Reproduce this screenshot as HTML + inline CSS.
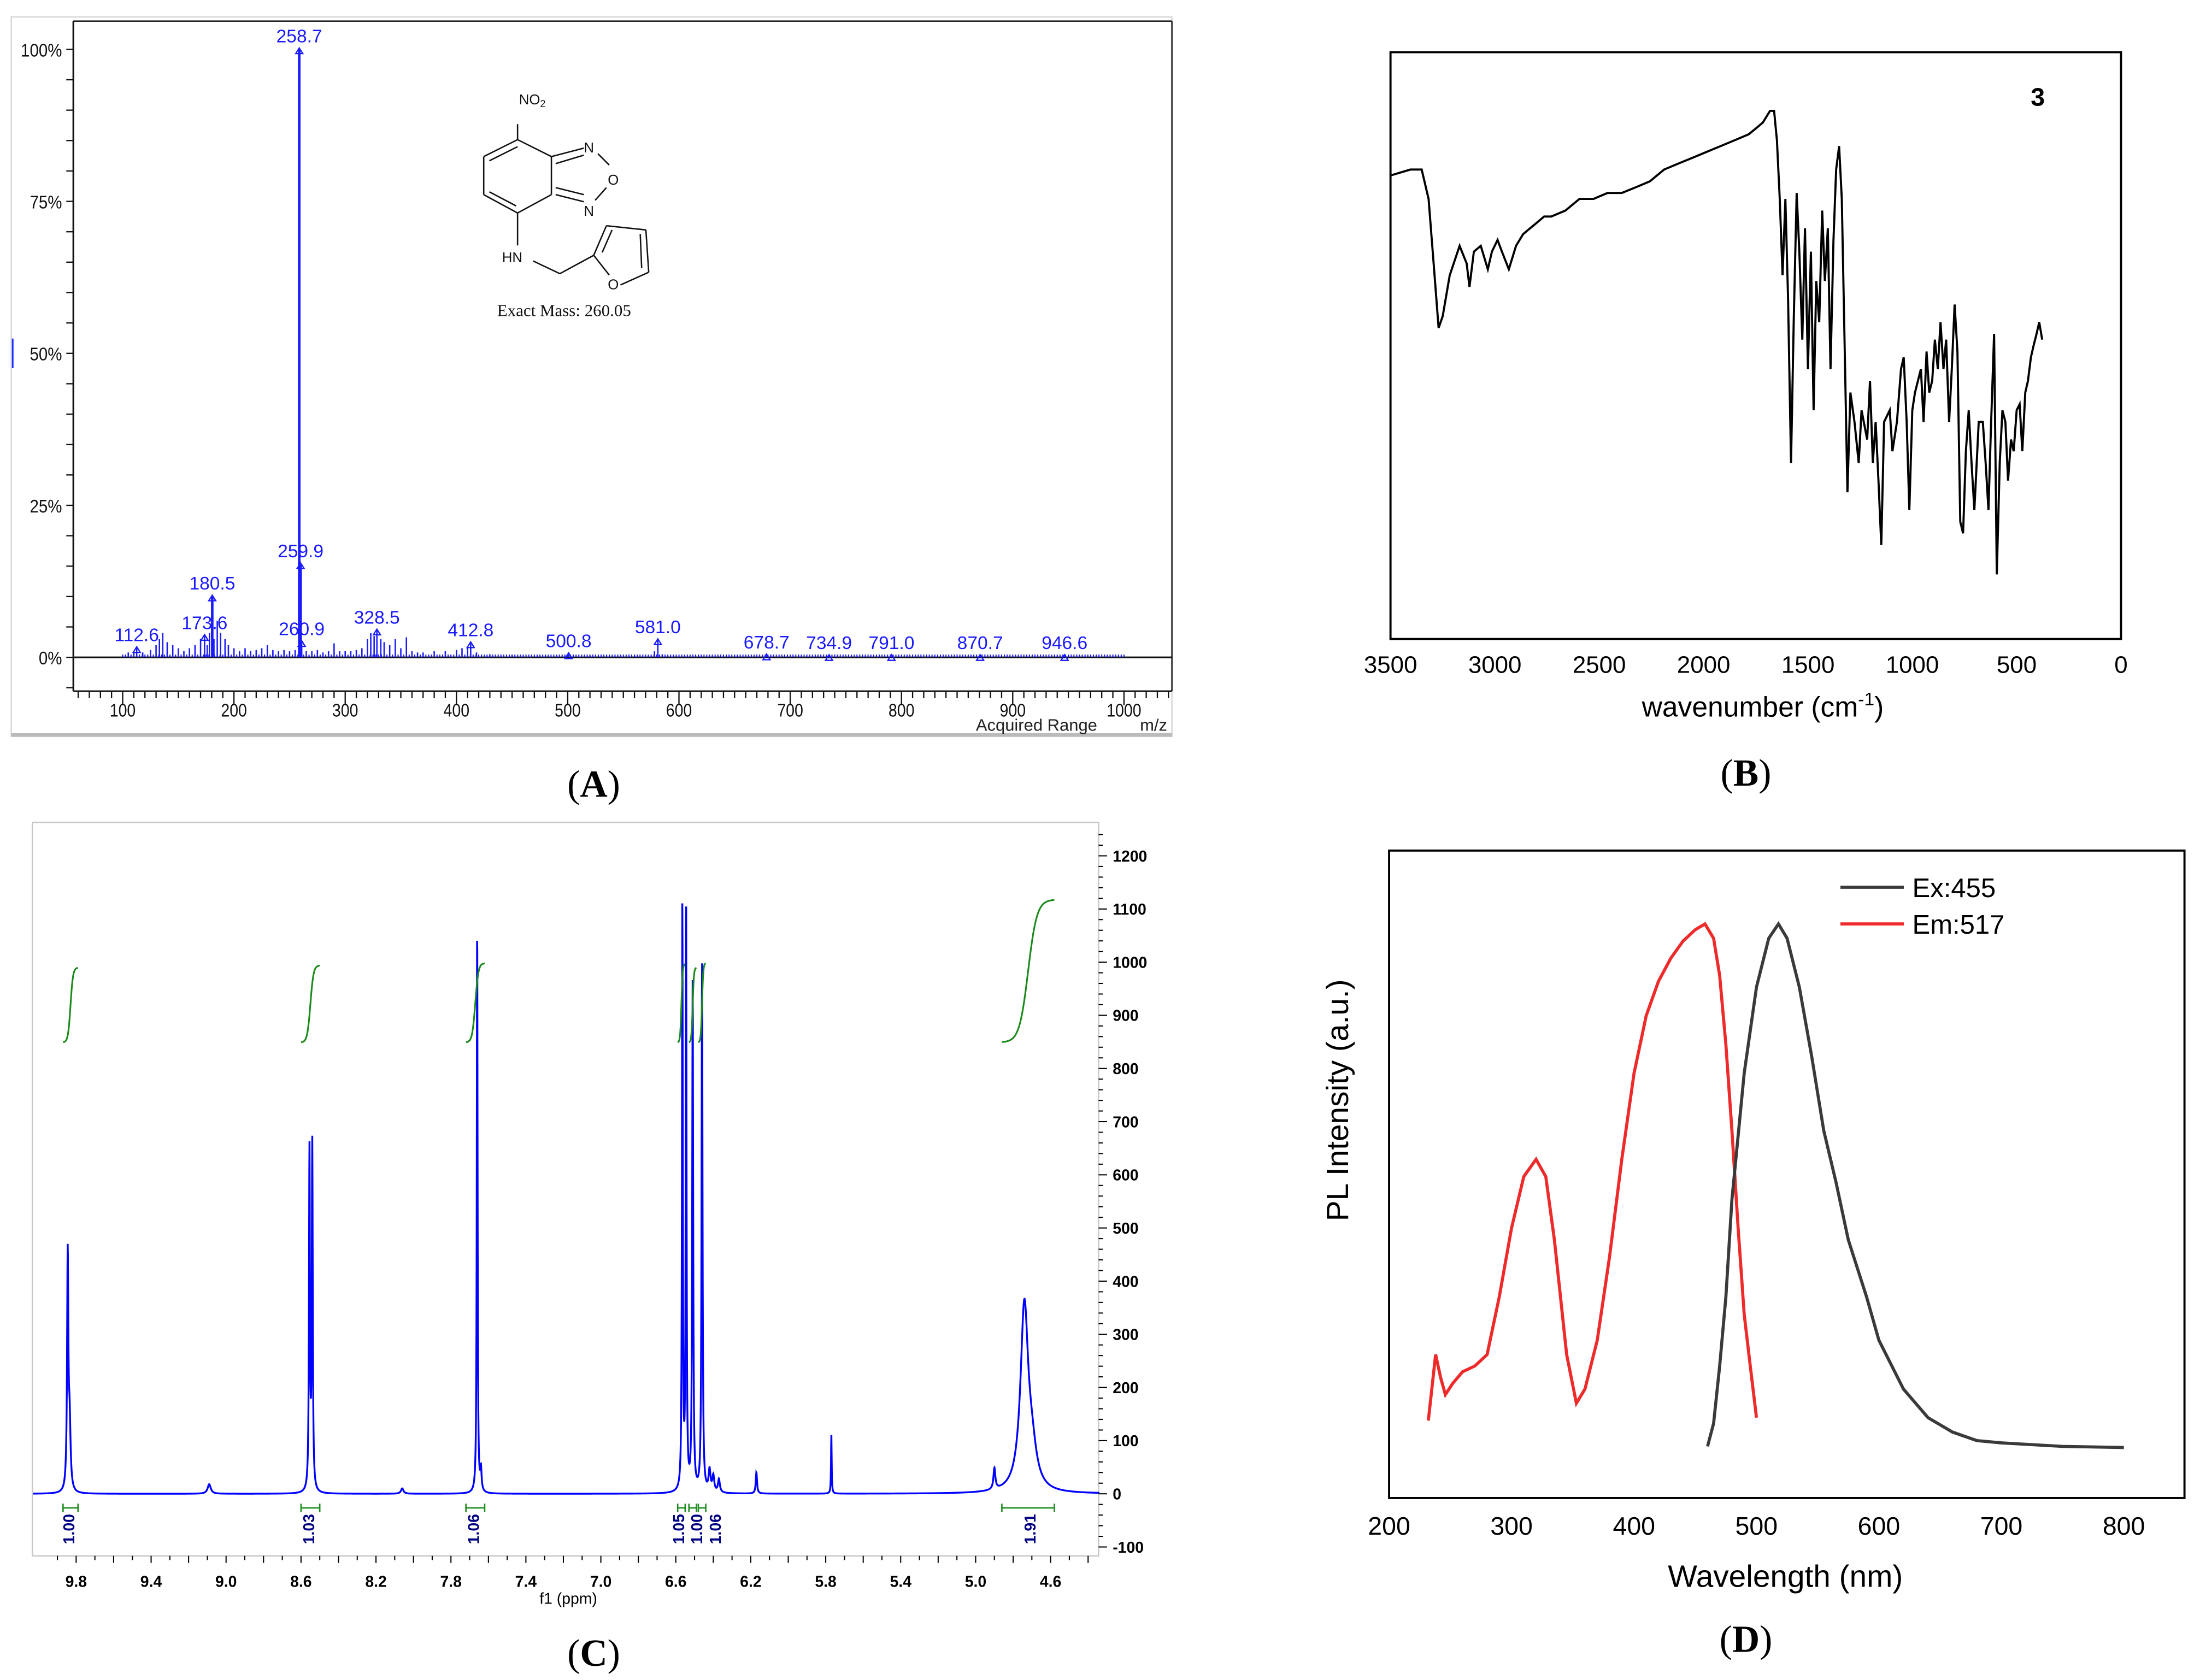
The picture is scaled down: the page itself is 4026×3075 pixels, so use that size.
<!DOCTYPE html>
<html><head><meta charset="utf-8"><style>
html,body{margin:0;padding:0;background:#fff;}
svg{display:block;}
</style></head><body>
<svg id="fig" width="4026" height="3075" viewBox="0 0 1560 1191" preserveAspectRatio="none" xmlns="http://www.w3.org/2000/svg" font-family="Liberation Sans, sans-serif">
<rect x="0" y="0" width="1560" height="1191" fill="#fff"/>
<g id="panelA">
<rect x="8" y="12" width="823" height="510" fill="none" stroke="#d8d8d8" stroke-width="1"/>
<line x1="8" y1="521" x2="831" y2="521" stroke="#bbb" stroke-width="2.5"/>
<line x1="52" y1="15" x2="831" y2="15" stroke="#222" stroke-width="1"/>
<line x1="831" y1="15" x2="831" y2="490" stroke="#222" stroke-width="1"/>
<line x1="52" y1="15" x2="52" y2="490" stroke="#111" stroke-width="1.2"/>
<line x1="52" y1="466" x2="831" y2="466" stroke="#111" stroke-width="1.2"/>
<line x1="52" y1="490" x2="831" y2="490" stroke="#111" stroke-width="1.2"/>
<line x1="9" y1="240" x2="9" y2="261" stroke="#2233ff" stroke-width="1.2"/>
<text x="735" y="518" font-size="12" text-anchor="middle" fill="#222">Acquired Range</text>
<text x="818" y="518" font-size="12" text-anchor="middle" fill="#222">m/z</text>
<g id="molecule" stroke="#111" stroke-width="1" fill="none">
<line x1="367" y1="99" x2="367" y2="88"/>
<line x1="367" y1="99" x2="343" y2="111"/><line x1="347" y1="114" x2="367" y2="104"/>
<line x1="343" y1="111" x2="343" y2="138"/>
<line x1="343" y1="138" x2="367" y2="151"/><line x1="347" y1="136" x2="366" y2="146"/>
<line x1="367" y1="151" x2="391" y2="138"/>
<line x1="391" y1="138" x2="391" y2="111"/>
<line x1="391" y1="111" x2="367" y2="99"/>
<line x1="391" y1="111" x2="414" y2="105"/><line x1="394" y1="116" x2="414" y2="110"/>
<line x1="394" y1="138" x2="414" y2="143"/><line x1="394" y1="133" x2="414" y2="138"/>
<line x1="424" y1="109" x2="432" y2="117"/><line x1="430" y1="133" x2="422" y2="142"/>
<line x1="367" y1="151" x2="367" y2="174"/>
<line x1="378" y1="185" x2="397" y2="194"/><line x1="397" y1="194" x2="421" y2="181"/>
<line x1="421" y1="181" x2="430" y2="160"/><line x1="427" y1="179" x2="434" y2="163"/>
<line x1="430" y1="160" x2="458" y2="163"/>
<line x1="458" y1="163" x2="460" y2="193"/><line x1="454" y1="166" x2="455" y2="190"/>
<line x1="460" y1="193" x2="440" y2="202"/>
<line x1="421" y1="181" x2="432" y2="195"/>
</g>
<g font-size="10" fill="#111">
<text x="368" y="74">NO<tspan font-size="7" dy="2">2</tspan></text>
<text x="414" y="108">N</text>
<text x="431" y="131">O</text>
<text x="414" y="153">N</text>
<text x="356" y="186">HN</text>
<text x="431" y="205">O</text>
</g>
<text x="400" y="224" font-size="12" font-family="Liberation Serif, serif" text-anchor="middle" fill="#111">Exact Mass: 260.05</text>
<g id="aTicks"></g>
<g id="aPeaks"></g>
</g>
<text x="421" y="565" font-size="27" font-family="Liberation Serif, serif" text-anchor="middle" fill="#000">(<tspan font-weight="bold">A</tspan>)</text>

<g id="panelB">
<rect x="986" y="37" width="518" height="416" fill="none" stroke="#000" stroke-width="1.5"/>
<text x="1445" y="75" font-size="18" font-weight="bold" text-anchor="middle" fill="#000">3</text>
<g id="bTicks"></g>
<path id="irLine" fill="none" stroke="#000" stroke-width="1.5"/>
<text x="1250" y="508" font-size="20" text-anchor="middle" fill="#000">wavenumber (cm<tspan font-size="13" dy="-8">-1</tspan><tspan dy="8">)</tspan></text>
</g>
<text x="1238" y="557" font-size="27" font-family="Liberation Serif, serif" text-anchor="middle" fill="#000">(<tspan font-weight="bold">B</tspan>)</text>

<g id="panelC">
<rect x="23" y="583" width="756" height="520" fill="none" stroke="#c8c8c8" stroke-width="1"/>
<g id="cTicks"></g>
<path id="nmrLine" fill="none" stroke="#0000ff" stroke-width="1.3"/>
<g id="cInteg"></g>
<text x="403" y="1137" font-size="11" text-anchor="middle" fill="#000">f1 (ppm)</text>
</g>
<text x="421" y="1181" font-size="27" font-family="Liberation Serif, serif" text-anchor="middle" fill="#000">(<tspan font-weight="bold">C</tspan>)</text>

<g id="panelD">
<rect x="985" y="603" width="564" height="459" fill="none" stroke="#000" stroke-width="1.5"/>
<g id="dTicks"></g>
<path id="emLine" fill="none" stroke="#ee2a2a" stroke-width="2.2"/>
<path id="exLine" fill="none" stroke="#3a3a3a" stroke-width="2.2"/>
<line x1="1305" y1="629" x2="1350" y2="629" stroke="#3a3a3a" stroke-width="2.2"/>
<text x="1356" y="636" font-size="19" fill="#000">Ex:455</text>
<line x1="1305" y1="655" x2="1350" y2="655" stroke="#ee2a2a" stroke-width="2.2"/>
<text x="1356" y="662" font-size="19" fill="#000">Em:517</text>
<text x="1266" y="1125" font-size="22" text-anchor="middle" fill="#000">Wavelength (nm)</text>
<text transform="translate(956,780) rotate(-90)" font-size="22" text-anchor="middle" fill="#000">PL Intensity (a.u.)</text>
</g>
<text x="1238" y="1171" font-size="27" font-family="Liberation Serif, serif" text-anchor="middle" fill="#000">(<tspan font-weight="bold">D</tspan>)</text>
</svg>
<script>
const msMainMz = [180.5, 258.7, 259.9];
const msMainVal = [10, 100, 15.3];
const msSmallMz = [105,110,112.6,118,125,130,133,136,140,145,150,155,160,165,170,173.6,176,178,182,185,188,192,195,200,205,210,215,220,225,230,235,240,245,250,255,260.9,265,270,275,280,285,290,295,300,305,310,315,320,323,326,328.5,332,335,340,345,350,355,360,365,370,380,390,400,405,410,412.8,418,430,450,480,500.8,520,560,578,581,585,620,678.7,734.9,791,870.7,946.6];
const msSmallVal = [0.8,1,1.5,0.8,1.2,2,3,4,2.5,2,1.5,1,1.5,2,3,3.5,2,4,3,6,4,3,2,1.5,1,1.5,1,1.2,1.5,2,1.2,1,1.2,1,1.2,2.5,1,1,1.2,0.8,1,2.3,1,1,1,1.2,1.5,3,4,3.5,4.4,3,2.5,2,3,1.5,3.3,1,0.8,0.8,1,1,1.2,1.5,1.8,2.3,0.8,0.5,0.4,0.3,0.5,0.3,0.3,1,2.8,0.5,0.3,0.3,0.2,0.2,0.2,0.2];
const msLabels = ["112.6","173.6","180.5","258.7","259.9","260.9","328.5","412.8","500.8","581.0","678.7","734.9","791.0","870.7","946.6"];
const msXTicks = [100,200,300,400,500,600,700,800,900,1000];
const msYTicks = [0,25,50,75,100];
const irWave = [3500,3405,3351,3318,3291,3270,3250,3216,3169,3135,3122,3101,3068,3034,3014,2987,2966,2933,2899,2865,2831,2797,2764,2730,2662,2595,2527,2460,2392,2324,2257,2189,2122,2054,1986,1919,1851,1784,1750,1716,1682,1662,1649,1635,1622,1608,1595,1581,1568,1554,1541,1527,1514,1500,1486,1473,1460,1446,1432,1419,1405,1392,1378,1365,1351,1338,1324,1311,1297,1277,1257,1243,1216,1203,1189,1176,1162,1149,1135,1108,1095,1074,1054,1041,1027,1014,1000,987,959,946,932,919,905,892,878,865,851,838,824,811,797,784,770,757,743,730,716,703,682,662,649,635,622,608,595,581,568,554,541,527,514,500,486,473,459,446,432,419,405,392,378];
const irTrans = [79,80,80,75,63,53,55,62,67,64,60,66,67,63,66,68,66,63,67,69,70,71,72,72,73,75,75,76,76,77,78,80,81,82,83,84,85,86,87,88,90,90,85,75,62,75,58,30,54,76,66,51,70,46,66,39,61,54,73,61,70,46,68,80,84,75,49,25,42,37,30,39,34,44,30,37,27,16,37,39,32,37,46,48,37,22,39,42,46,37,49,42,44,51,46,54,46,51,37,46,57,49,20,18,32,39,30,22,37,37,30,22,37,52,11,30,39,37,27,34,32,39,40,32,42,44,48,50,52,54,51];
const irXTicks = [3500,3000,2500,2000,1500,1000,500,0];
const nmrPpm = [9.845,9.835,9.09,8.555,8.54,8.06,7.66,7.64,6.565,6.545,6.51,6.46,6.42,6.40,6.37,6.17,5.77,4.90,4.74,4.70];
const nmrHeight = [440,120,18,640,650,10,1085,40,1110,1098,960,1000,40,30,25,40,112,40,345,60];
const nmrWidth = [0.004,0.006,0.01,0.003,0.003,0.008,0.0025,0.004,0.0025,0.0025,0.003,0.003,0.006,0.006,0.006,0.004,0.002,0.006,0.025,0.03];
const integStart = [9.87,8.60,7.72,6.59,6.53,6.48,4.86];
const integEnd = [9.79,8.50,7.62,6.55,6.49,6.44,4.58];
const integLabelPpm = [9.84,8.56,7.68,6.585,6.49,6.39,4.71];
const integVal = ["1.00","1.03","1.06","1.05","1.00","1.06","1.91"];
const integNum = [1.00,1.03,1.06,1.05,1.00,1.06,1.91];
const nmrXTicks = [9.8,9.4,9.0,8.6,8.2,7.8,7.4,7.0,6.6,6.2,5.8,5.4,5.0,4.6];
const nmrYTicks = [-100,0,100,200,300,400,500,600,700,800,900,1000,1100,1200];
const emNm = [232,238,242,246,252,260,270,280,290,300,310,320,328,335,345,353,360,370,380,390,400,410,420,430,440,450,458,465,470,475,480,485,490,495,500];
const emVal = [0.135,0.25,0.21,0.18,0.2,0.22,0.23,0.25,0.35,0.47,0.56,0.59,0.56,0.45,0.25,0.165,0.19,0.275,0.42,0.59,0.74,0.84,0.9,0.94,0.97,0.99,1.0,0.975,0.91,0.79,0.64,0.47,0.32,0.23,0.14];
const exNm = [460,465,470,475,480,490,500,510,518,525,535,545,555,565,575,590,600,620,640,660,680,700,750,800];
const exVal = [0.09,0.13,0.23,0.35,0.52,0.74,0.89,0.975,1.0,0.975,0.89,0.77,0.64,0.55,0.45,0.35,0.275,0.19,0.14,0.115,0.10,0.096,0.09,0.088];
const plXTicks = [200,300,400,500,600,700,800];

const NS = "http://www.w3.org/2000/svg";
function mk(parent, tag, attrs, txt){
  const e = document.createElementNS(NS, tag);
  for (const k in attrs) e.setAttribute(k, attrs[k]);
  if (txt !== undefined) e.textContent = txt;
  parent.appendChild(e);
  return e;
}
const ax = m => 87 + (m - 100) * 0.7889;
const ay = v => 466 - v * 4.31;
const aT = document.getElementById('aTicks');
for (let m = 60; m <= 1040; m += 10) {
  const big = m % 100 === 0;
  const t = mk(aT, 'line', {x1: ax(m), x2: ax(m), y1: 490, y2: big ? 500 : 495, stroke: '#111', 'stroke-width': 0.9});
  
  
}
msXTicks.forEach(m => {
  const t = mk(aT, 'text', {x: ax(m), y: 508, 'font-size': 13, 'text-anchor': 'middle', fill: '#111', transform: `translate(${ax(m)},0) scale(0.85,1) translate(${-ax(m)},0)`}, String(m));
  
  
});
for (let v = -5; v <= 100; v += 5) {
  const t = mk(aT, 'line', {x1: 47, x2: 52, y1: ay(v), y2: ay(v), stroke: '#111', 'stroke-width': 0.9});
  
  
}
msYTicks.forEach(v => {
  const t = mk(aT, 'text', {x: 44, y: ay(v) + 5, 'font-size': 13, 'text-anchor': 'end', fill: '#111', transform: `translate(44,0) scale(0.88,1) translate(-44,0)`}, v + '%');
  
  
});
const aP = document.getElementById('aPeaks');
msSmallMz.forEach((m, i) => {
  const p = mk(aP, 'line', {x1: ax(m), x2: ax(m), y1: 466, y2: ay(msSmallVal[i]), stroke: '#1a1aff', 'stroke-width': 1});
  
  
});
for (let m = 100; m <= 1000; m += 2.5) {
  const p = mk(aP, 'line', {x1: ax(m), x2: ax(m), y1: 466, y2: 464, stroke: '#1a1aff', 'stroke-width': 0.8});
  
  
}
msMainMz.forEach((m, i) => {
  const p = mk(aP, 'line', {x1: ax(m), x2: ax(m), y1: 466, y2: ay(msMainVal[i]), stroke: '#1a1aff', 'stroke-width': 1.8});
  
  
});
const allMz = msSmallMz.concat(msMainMz), allVal = msSmallVal.concat(msMainVal);
msLabels.forEach(l => {
  const m = parseFloat(l);
  let idx = 0, best = 1e9;
  allMz.forEach((q, j) => { if (Math.abs(q - m) < best) { best = Math.abs(q - m); idx = j; } });
  const top = ay(allVal[idx]);
  const ly = Math.min(top - 5, 462);
  const tri = mk(aP, 'path', {d: `M${ax(m)-2.5},${top+3} L${ax(m)},${top-1} L${ax(m)+2.5},${top+3}Z`, fill: 'none', stroke: '#1a1aff', 'stroke-width': 0.9});
  
  
  const t = mk(aP, 'text', {x: ax(m), y: ly, 'font-size': 13, 'text-anchor': 'middle', fill: '#1a1aff'}, l);
  
  
});
const bx = w => 1504 - w / 6.757;
const by = t => 453 - t * 4.16;
const bT = document.getElementById('bTicks');
irXTicks.forEach(w => {
  const t = mk(bT, 'text', {x: bx(w), y: 477, 'font-size': 17, 'text-anchor': 'middle', fill: '#000'}, String(w));
  
  
});
const irL = document.getElementById('irLine');
irL.setAttribute('d', irWave.map((w, i) => (i ? 'L' : 'M') + bx(w).toFixed(1) + ',' + by(irTrans[i]).toFixed(1)).join(''));


const cx = p => 54 + (9.8 - p) * 132.88;
const cy = v => 1059 - v * 0.3769;
const cT = document.getElementById('cTicks');
for (let v = -100; v <= 1250; v += 20) {
  const major = v % 100 === 0;
  const t = mk(cT, 'line', {x1: 779, x2: major ? 785 : 782, y1: cy(v), y2: cy(v), stroke: '#000', 'stroke-width': 0.8});
  
  
}
nmrYTicks.forEach(v => {
  const t = mk(cT, 'text', {x: 789, y: cy(v) + 4, 'font-size': 11, 'font-weight': 'bold', fill: '#000'}, String(v));
  
  
});
for (let k = 0; k <= 60; k++) {
  const p = 9.9 - k * 0.1;
  const xx = cx(p);
  if (xx < 23 || xx > 779) continue;
  const major = Math.abs(Math.round(p * 10) % 2) === 0;
  const t = mk(cT, 'line', {x1: xx, x2: xx, y1: 1103, y2: major ? 1108 : 1106, stroke: '#000', 'stroke-width': 0.8});
  
  
}
nmrXTicks.forEach(p => {
  const t = mk(cT, 'text', {x: cx(p), y: 1125, 'font-size': 11, 'font-weight': 'bold', 'text-anchor': 'middle', fill: '#000'}, p.toFixed(1));
  
  
});
(function(){
  let d = '';
  const N = 5000, p0 = 10.03, p1 = 4.29;
  for (let i = 0; i <= N; i++) {
    const p = p0 - (p0 - p1) * i / N;
    let s = 0;
    for (let j = 0; j < nmrPpm.length; j++) {
      const u = (p - nmrPpm[j]) / nmrWidth[j];
      s += nmrHeight[j] / (1 + u * u);
    }
    const xx = Math.max(23, Math.min(779, cx(p)));
    d += (i ? 'L' : 'M') + xx.toFixed(2) + ',' + cy(s).toFixed(2);
  }
  const l = document.getElementById('nmrLine');
  l.setAttribute('d', d);
  
  
})();
const cI = document.getElementById('cInteg');
integStart.forEach((s, i) => {
  const e = integEnd[i];
  const x1 = cx(s), x2 = cx(e);
  const yb = 739, yt = 739 - integNum[i] * 53;
  let d = '';
  for (let k = 0; k <= 40; k++) {
    const f = k / 40;
    const sig = 1 / (1 + Math.exp(-(f - 0.5) * 12));
    d += (k ? 'L' : 'M') + (x1 + (x2 - x1) * f).toFixed(2) + ',' + (yb + (yt - yb) * sig).toFixed(2);
  }
  const c = mk(cI, 'path', {d: d, fill: 'none', stroke: '#1a8a1a', 'stroke-width': 1.2});
  
  
  const b = mk(cI, 'path', {d: `M${x1},1066 V1072 M${x1},1069 H${x2} M${x2},1066 V1072`, fill: 'none', stroke: '#1a8a1a', 'stroke-width': 1});
  
  
  const mx = cx(integLabelPpm[i]);
  const t = mk(cI, 'text', {x: 0, y: 0, 'font-size': 11, 'font-weight': 'bold', 'text-anchor': 'middle', fill: '#000080', transform: `translate(${mx + 4},1084) rotate(-90)`}, integVal[i]);
  
  
});
const dx = n => 985 + (n - 200) * 0.8683;
const dy = v => 1062 - v * 407;
const dT = document.getElementById('dTicks');
plXTicks.forEach(n => {
  const t = mk(dT, 'text', {x: dx(n), y: 1088, 'font-size': 18, 'text-anchor': 'middle', fill: '#000'}, String(n));
  
  
});
document.getElementById('emLine').setAttribute('d', emNm.map((n, i) => (i ? 'L' : 'M') + dx(n).toFixed(1) + ',' + dy(emVal[i]).toFixed(1)).join(''));
document.getElementById('exLine').setAttribute('d', exNm.map((n, i) => (i ? 'L' : 'M') + dx(n).toFixed(1) + ',' + dy(exVal[i]).toFixed(1)).join(''));
</script>
</body></html>
